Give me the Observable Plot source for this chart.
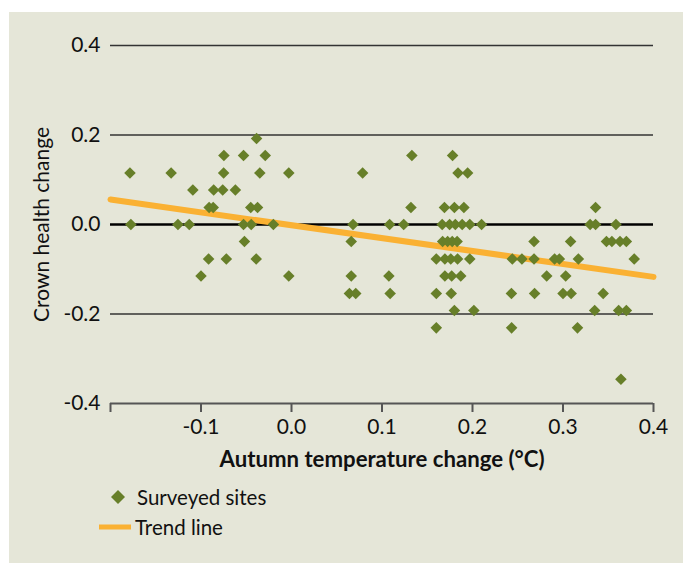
<!DOCTYPE html>
<html>
<head>
<meta charset="utf-8">
<script src="https://cdn.jsdelivr.net/npm/d3@7"></script>
<script src="https://cdn.jsdelivr.net/npm/@observablehq/plot@0.6"></script>
<style>
  html, body { margin: 0; padding: 0; background: #ffffff; }
  #panel { position: absolute; left: 9px; top: 12px; width: 674px; height: 551px; background: #e5e6d8; font-family: Lato, "Open Sans", sans-serif; }
  #chart { position: absolute; left: 0; top: 0; }
  .leg { position: absolute; display: flex; align-items: center; font-size: 20.5px; color: #111; font-family: Lato, sans-serif; }
</style>
</head>
<body>
<div id="panel">
  <div id="chart"></div>
  <div class="leg" id="leg1" style="left:90px; top:470px;"></div>
  <div class="leg" id="leg2" style="left:81px; top:500px;"></div>
</div>
<script>
// Surveyed sites: autumn temperature change (°C) and crown health change
const siteTemp = [
  -0.1785, -0.1775, -0.133, -0.1255, -0.113, -0.109, -0.100, -0.0916, -0.091, -0.0865,
  -0.086, -0.076, -0.075, -0.0747, -0.072, -0.062, -0.053, -0.053, -0.052, -0.045,
  -0.0445, -0.039, -0.0386, -0.0375, -0.035, -0.029, -0.020, -0.003, -0.003,
  0.064, 0.066, 0.066, 0.068, 0.071, 0.0786, 0.1076, 0.1084, 0.109, 0.124, 0.132, 0.133,
  0.160, 0.160, 0.160, 0.1665, 0.167, 0.169, 0.1695, 0.1695, 0.1725, 0.1747,
  0.176, 0.1765, 0.177, 0.1776, 0.178, 0.180, 0.180, 0.181, 0.183, 0.1835,
  0.184, 0.187, 0.1886, 0.1905, 0.1946, 0.197, 0.197, 0.2015, 0.210,
  0.243, 0.2432, 0.244, 0.2546, 0.268, 0.268, 0.2686, 0.282, 0.2907, 0.296,
  0.300, 0.303, 0.3084, 0.309, 0.316, 0.317, 0.330, 0.335, 0.336, 0.336,
  0.3444, 0.348, 0.354, 0.3585, 0.3615, 0.363, 0.364, 0.370, 0.370, 0.3787
];
const siteHealth = [
  0.115, 0, 0.115, 0, 0, 0.077, -0.115, -0.077, 0.038, 0.038,
  0.077, 0.077, 0.115, 0.154, -0.077, 0.077, 0.154, 0, -0.038, 0.038,
  0, -0.077, 0.192, 0.038, 0.115, 0.154, 0, 0.115, -0.115,
  -0.154, -0.115, -0.038, 0, -0.154, 0.115, -0.115, 0, -0.154, 0, 0.038, 0.154,
  -0.231, -0.154, -0.077, 0, -0.038, 0.038, -0.077, -0.115, -0.038, 0,
  -0.077, -0.154, -0.115, -0.038, 0.154, 0.038, -0.192, 0, -0.038, -0.077,
  0.115, -0.115, 0, 0.038, 0.115, 0, -0.077, -0.192, 0,
  -0.154, -0.231, -0.077, -0.077, -0.077, -0.038, -0.154, -0.115, -0.077, -0.077,
  -0.154, -0.115, -0.038, -0.154, -0.231, -0.077, 0, -0.192, 0.038, 0,
  -0.154, -0.038, -0.038, 0, -0.192, -0.038, -0.346, -0.192, -0.038, -0.077
];
// Trend line end points
const trendTemp = [-0.2, 0.4];
const trendHealth = [0.056, -0.117];
// Axis ticks
const xTicks = [-0.2, -0.1, 0.0, 0.1, 0.2, 0.3, 0.4];
const xTickLabels = ["", "-0.1", "0.0", "0.1", "0.2", "0.3", "0.4"];
const yTicks = [-0.4, -0.2, 0.0, 0.2, 0.4];
const yTickLabels = ["-0.4", "-0.2", "0.0", "0.2", "0.4"];
const gridValues = [-0.2, 0.2, 0.4];
const zeroValue = [0];
const axisValue = [-0.4];

const GREEN = "#677f29";
const ORANGE = "#fab133";

const sites = siteTemp.map((t, i) => ({temp: t, health: siteHealth[i]}));
const trend = trendTemp.map((t, i) => ({temp: t, health: trendHealth[i]}));

const chart = Plot.plot({
  width: 674,
  height: 470,
  marginLeft: 101,
  marginRight: 30,
  marginTop: 33,
  marginBottom: 79,
  style: {background: "transparent", fontFamily: "Lato, sans-serif", fontSize: "21px", color: "#111"},
  x: {domain: [-0.2, 0.4]},
  y: {domain: [-0.4, 0.4]},
  marks: [
    Plot.ruleY(gridValues, {stroke: "#333", strokeWidth: 1.4}),
    Plot.ruleY(zeroValue, {stroke: "#000", strokeWidth: 2.5}),
    Plot.ruleY(axisValue, {stroke: "#555", strokeWidth: 2}),
    Plot.axisX({
      ticks: xTicks, tickSize: 9, tickPadding: 7, stroke: "#555", strokeWidth: 2,
      tickFormat: (d, i) => xTickLabels[xTicks.indexOf(d)],
      label: "Autumn temperature change (°C)", labelAnchor: "center", labelArrow: "none", labelOffset: 63
    }),
    Plot.axisY({
      ticks: yTicks, tickSize: 0, tickPadding: 10,
      tickFormat: d => yTickLabels[yTicks.indexOf(d)],
      label: "Crown health change", labelAnchor: "center", labelArrow: "none", labelOffset: 76
    }),
    Plot.line(trend, {x: "temp", y: "health", stroke: ORANGE, strokeWidth: 6}),
    Plot.dot(sites, {x: "temp", y: "health", symbol: "diamond2", r: 5.2, fill: GREEN, stroke: "none"})
  ]
});
document.getElementById("chart").appendChild(chart);
// bold x-axis label
chart.querySelectorAll("text").forEach(t => {
  if (t.textContent === "Autumn temperature change (°C)") {
    t.setAttribute("font-weight", "bold");
    t.setAttribute("font-size", "22.2px");
  }
});

document.getElementById("leg1").innerHTML =
  `<svg width="40" height="30"><path d="M19,8 L26,15 L19,22 L12,15 Z" fill="${GREEN}"/></svg><span style="margin-left:-2px">Surveyed sites</span>`;
document.getElementById("leg2").innerHTML =
  `<svg width="45" height="30"><line x1="9" x2="41" y1="15" y2="15" stroke="${ORANGE}" stroke-width="5"/></svg><span style="margin-left:0px">Trend line</span>`;
</script>
</body>
</html>
